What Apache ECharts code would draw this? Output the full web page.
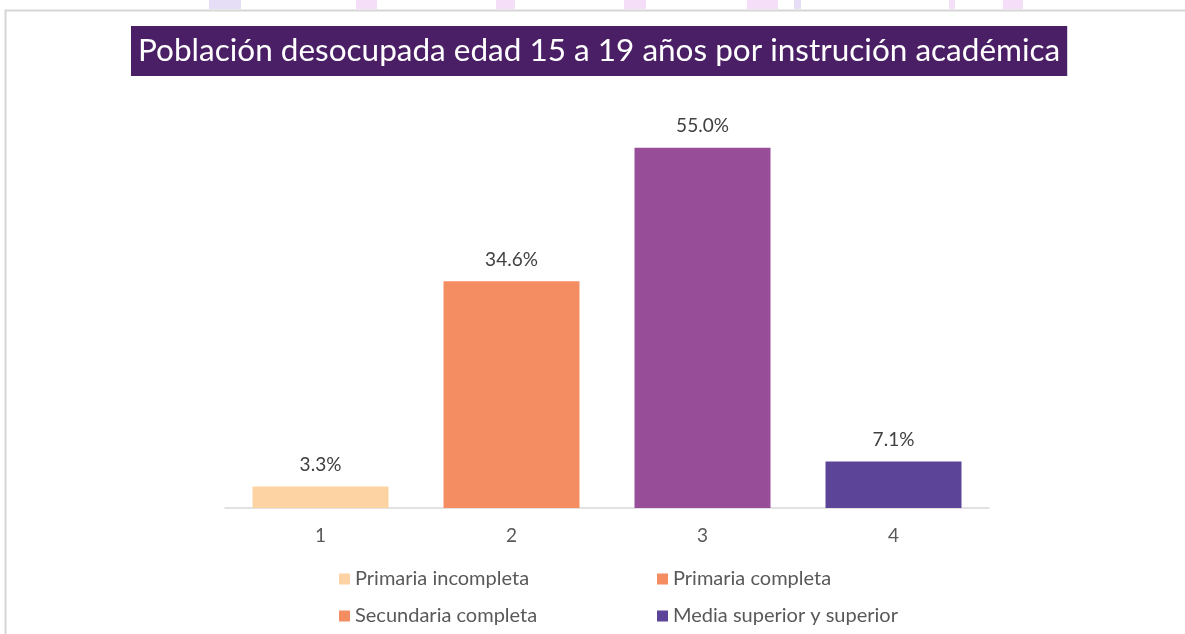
<!DOCTYPE html>
<html>
<head>
<meta charset="utf-8">
<script src="https://cdn.jsdelivr.net/npm/echarts@6/dist/echarts.min.js"></script>
<style>
  html, body { margin: 0; padding: 0; background: #fff; }
  #chart { width: 1185px; height: 634px; }
</style>
</head>
<body>
<div id="chart"></div>
<script>
// datos del grafico
const categorias = ['1', '2', '3', '4'];
const niveles = ['Primaria incompleta', 'Primaria completa', 'Secundaria completa', 'Media superior y superior'];
const porcentajes = [3.3, 34.6, 55.0, 7.1];
const colores = ['#FED3A3', '#F58D62', '#984D98', '#5C4599'];
const coloresLeyenda = ['#FED3A3', '#F58D62', '#F58D62', '#5C4599'];

var chartDom = document.getElementById('chart');
var myChart = echarts.init(chartDom);

// una serie por nivel, apiladas para que cada barra quede centrada en su categoria
let series = [];
for (let i = 0; i < niveles.length; i++) {
    let d = categorias.map(function (c, j) { return j === i ? porcentajes[i] : '-'; });
    series.push({
        name: niveles[i],
        type: 'bar',
        stack: 'total',
        barWidth: 136,
        data: d,
        itemStyle: { color: colores[i] },
        label: {
            show: true,
            position: 'top',
            distance: 12,
            fontFamily: 'Lato',
            fontSize: 19,
            color: '#404040',
            formatter: function (p) { return p.value.toFixed(1) + '%'; }
        }
    });
}

function legendData(idx) {
    return idx.map(function (i) {
        return { name: niveles[i], itemStyle: { color: coloresLeyenda[i] } };
    });
}

let legendBase = {
    orient: 'vertical',
    top: 569,
    height: 80,
    padding: 0,
    itemWidth: 11,
    itemHeight: 11,
    itemGap: 17,
    icon: 'rect',
    textStyle: { fontFamily: 'Lato', fontSize: 20, color: '#595959', lineHeight: 20 }
};

// restos de la marca de agua arriba
const manchas = [
    [209, 32, '#E6DEF6'], [356, 21, '#F5DEF7'], [496, 19, '#F5DEF7'], [624, 22, '#F5DEF7'],
    [747, 31, '#F5DEF7'], [794, 7, '#E6DEF6'], [949, 6, '#F5DEF7'], [1003, 20, '#F5DEF7']
];

let graficos = [
    {
        type: 'rect',
        shape: { x: 5.5, y: 10.5, width: 1300, height: 700 },
        style: { fill: 'none', stroke: '#D6D6D6', lineWidth: 2 },
        z: -1
    }
];
manchas.forEach(function (m) {
    graficos.push({
        type: 'rect',
        shape: { x: m[0], y: 0, width: m[1], height: 9 },
        style: { fill: m[2] },
        z: -1
    });
});

let option = {
    backgroundColor: '#fff',
    animation: false,
    title: {
        text: 'Población desocupada edad 15 a 19 años por instrución académica',
        left: 131,
        top: 26,
        padding: [9, 7, 9, 7],
        backgroundColor: '#4B1F65',
        textStyle: {
            fontFamily: 'Lato',
            fontWeight: 'normal',
            fontSize: 31.5,
            color: '#fff'
        }
    },
    legend: [
        Object.assign({}, legendBase, { left: 339, data: legendData([0, 2]) }),
        Object.assign({}, legendBase, { left: 657, data: legendData([1, 3]) })
    ],
    grid: {
        left: 225,
        right: 196,
        top: 115,
        bottom: 126
    },
    xAxis: {
        type: 'category',
        data: categorias,
        axisTick: { show: false },
        axisLine: { lineStyle: { color: '#D9D9D9', width: 1.5 } },
        axisLabel: { fontFamily: 'Lato', fontSize: 19, color: '#595959', margin: 18 }
    },
    yAxis: {
        type: 'value',
        min: 0,
        max: 60,
        show: false,
        splitLine: { show: false }
    },
    graphic: graficos,
    series: series
};

myChart.setOption(option);
</script>
</body>
</html>
